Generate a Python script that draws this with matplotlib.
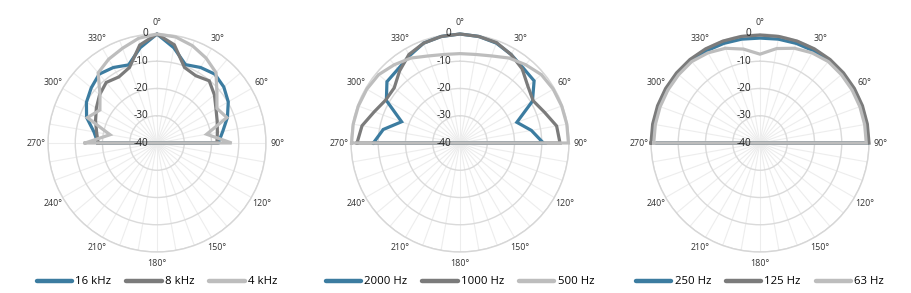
import matplotlib

matplotlib.use("Agg")

import matplotlib.pyplot as plt
import numpy as np
from matplotlib.lines import Line2D

plt.rcParams["font.family"] = ["Open Sans", "DejaVu Sans"]

# front half only, -90..90 deg (270 -> 0 -> 90), step 10
angles = [-90, -80, -70, -60, -50, -40, -30, -20, -10, 0, 10, 20, 30, 40, 50, 60, 70, 80, 90]

hf_labels = ["16 kHz", "8 kHz", "4 kHz"]
hf_16k = [-18.3, -16.5, -12.5, -10.1, -8.5, -7.0, -8.0, -9.5, -4.5, 0.0,
          -4.5, -9.4, -8.0, -7.0, -8.0, -9.8, -12.5, -15.5, -17.5]
hf_8k = [-18.4, -17.5, -16.0, -14.3, -12.5, -11.0, -12.0, -10.5, -3.5, 0.0,
         -3.4, -10.5, -11.5, -10.2, -12.5, -15.0, -16.5, -17.5, -18.0]
hf_4k = [-13.6, -22.5, -12.8, -15.8, -12.7, -6.4, -4.5, -3.0, -1.0, 0.0,
         -0.5, -2.0, -4.0, -6.3, -11.3, -14.6, -12.7, -21.5, -12.6]

mf_labels = ["2000 Hz", "1000 Hz", "500 Hz"]
mf_2000 = [-8.2, -11.4, -17.2, -8.8, -5.0, -4.6, -3.0, -1.0, -0.3, 0.0,
           -0.3, -1.0, -2.5, -4.0, -4.5, -9.3, -17.8, -13.4, -9.4]
mf_1000 = [-2.2, -3.5, -6.5, -8.5, -8.5, -5.5, -2.5, -1.0, -0.3, 0.0,
           -0.3, -0.8, -2.5, -4.5, -7.5, -9.0, -7.0, -4.0, -3.3]
mf_500 = [-0.2, -0.2, -0.3, -0.5, -1.0, -2.5, -4.0, -6.0, -7.0, -7.2,
          -7.0, -6.0, -4.0, -2.5, -1.0, -0.5, -0.3, -0.2, -0.2]

lf_labels = ["250 Hz", "125 Hz", "63 Hz"]
lf_250 = [-0.5, -0.5, -0.5, -0.5, -0.5, -0.7, -0.9, -1.1, -1.3, -1.5,
          -1.3, -1.1, -0.9, -0.7, -0.5, -0.5, -0.5, -0.5, -0.5]
lf_125 = [0.0, 0.0, 0.0, 0.0, 0.0, 0.0, -0.1, -0.2, -0.3, -0.4,
          -0.3, -0.2, -0.1, 0.0, 0.0, 0.0, 0.0, 0.0, 0.0]
lf_63 = [-1.0, -1.0, -1.0, -1.0, -1.0, -1.0, -1.8, -3.0, -5.0, -7.4,
         -4.8, -3.0, -1.8, -1.0, -1.0, -1.0, -1.0, -1.0, -1.0]

colors = ["#3c7ca0", "#7b7b7b", "#bdbdbd"]
r_min, r_max = -40, 0

panels = [
    (hf_labels, [hf_16k, hf_8k, hf_4k], 157),
    (mf_labels, [mf_2000, mf_1000, mf_500], 460),
    (lf_labels, [lf_250, lf_125, lf_63], 760),
]

W, H, R, CY = 912, 293, 109, 143

fig = plt.figure(figsize=(W / 100, H / 100), dpi=100)

for labels, series, cx in panels:
    ax = fig.add_axes([(cx - R) / W, (H - CY - R) / H, 2 * R / W, 2 * R / H], projection="polar")
    ax.set_theta_zero_location("N")
    ax.set_theta_direction(-1)
    ax.set_ylim(r_min, r_max)
    ax.set_thetagrids(np.arange(0, 360, 10), labels=[])
    ax.set_rgrids([-30, -20, -10, 0], labels=[])
    ax.xaxis.grid(True, color="#ededed", lw=0.8)
    ax.yaxis.grid(True, color="#dadada", lw=1.0)
    ax.spines["polar"].set_color("#d6d6d6")
    ax.spines["polar"].set_linewidth(1.0)
    ax.set_facecolor("white")

    # close each curve back through the floor (-40 dB) at the rear
    theta = np.deg2rad(angles + [180, angles[0]])
    for vals, color in zip(series, colors):
        r = np.clip(list(vals) + [r_min, vals[0]], r_min, r_max)
        ax.plot(theta, r, color=color, lw=2.3, solid_joinstyle="miter", zorder=3, clip_on=False)

    for deg in range(0, 360, 30):
        ax.text(np.deg2rad(deg), 4.2, f"{deg}°", ha="center", va="center",
                fontsize=6.4, color="#333333", clip_on=False)
    for rv in [0, -10, -20, -30, -40]:
        ax.annotate(str(rv), xy=(0, rv), xytext=(-6.5, 0), textcoords="offset points",
                    ha="right", va="center", fontsize=7.2, color="#222222", zorder=4)

    handles = [Line2D([], [], color=c, lw=3.2, solid_capstyle="round") for c in colors]
    fig.legend(handles, labels, loc="center", bbox_to_anchor=(cx / W, (H - 282) / H),
               ncol=3, frameon=False, fontsize=8.2, handlelength=3.1, handletextpad=0.3,
               columnspacing=1.3, borderaxespad=0)

fig.savefig("out.png", dpi=100, facecolor="white")
plt.close(fig)
